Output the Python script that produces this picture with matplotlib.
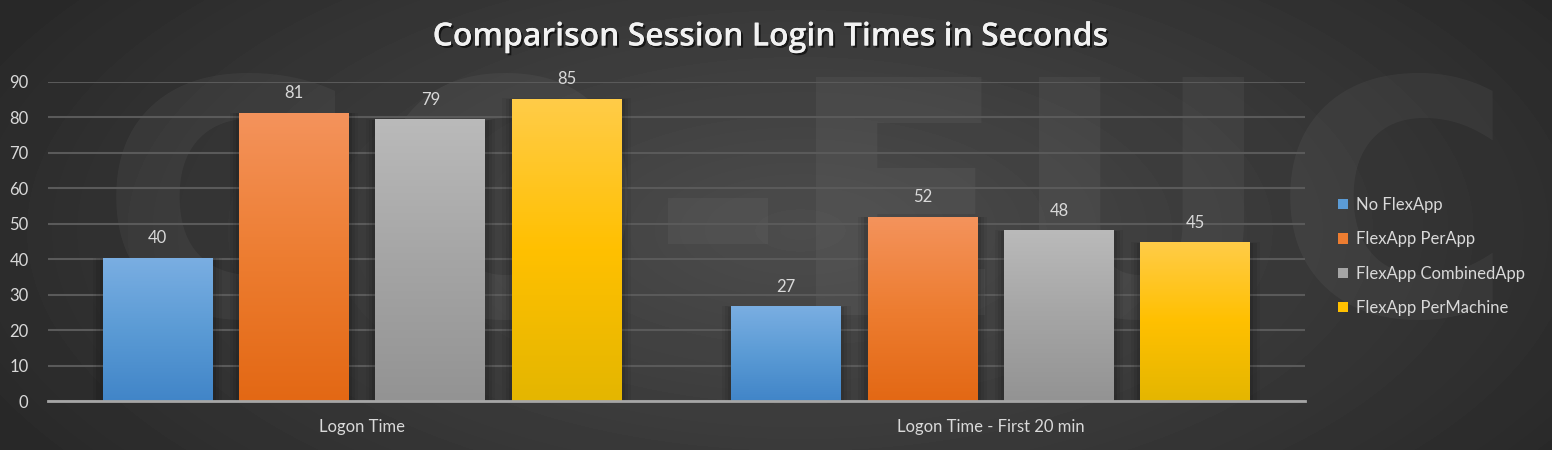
import matplotlib.pyplot as plt
import matplotlib.patheffects as pe
from matplotlib.colors import LinearSegmentedColormap
from matplotlib.patches import Rectangle
import numpy as np

# 数据
categories = ['Logon Time', 'Logon Time - First 20 min']
series = ['No FlexApp', 'FlexApp PerApp', 'FlexApp CombinedApp', 'FlexApp PerMachine']
no_flexapp = [40.3, 26.6]
per_app = [81.2, 51.9]
combined_app = [79.3, 48.0]
per_machine = [85.2, 44.6]
y_ticks = [0, 10, 20, 30, 40, 50, 60, 70, 80, 90]
title = 'Comparison Session Login Times in Seconds'

values = [no_flexapp, per_app, combined_app, per_machine]

# 样式
TOP_COLORS = ['#7aaee2', '#f4935c', '#bababa', '#ffcc48']
BOTTOM_COLORS = ['#4185c8', '#e36814', '#939393', '#e4b600']
MID_COLORS = ['#5b9bd5', '#ed7d31', '#a5a5a5', '#ffc000']
TEXT_COLOR = '#d9d9d9'
FONT = 'Lato'
FONTSIZE = 12

fig = plt.figure(figsize=(15.52, 4.5), dpi=100)

# 背景径向渐变
bg = fig.add_axes([0, 0, 1, 1], zorder=-10)
yy, xx = np.mgrid[0:450, 0:1552]
r = np.sqrt(((xx - 800) / 900.0) ** 2 + ((yy - 230) / 420.0) ** 2)
shade = np.clip(0.30 - 0.14 * r, 0.16, 0.30)
bg.imshow(shade, cmap='gray', vmin=0, vmax=1, aspect='auto', extent=[0, 1, 0, 1])
bg.set_axis_off()

# 水印
bg.text(0.52, 0.50, 'GO-EUC', transform=bg.transAxes, ha='center', va='center',
        fontsize=235, fontweight='bold', family='DejaVu Sans', color='white', alpha=0.045)

ax = fig.add_axes([48 / 1552, 1 - 401 / 450, (1305 - 48) / 1552, (401 - 82) / 450])
ax.set_facecolor('none')

n = len(series)
step = 0.217
width = 0.175
x = np.arange(len(categories))

grad = np.linspace(1, 0, 256).reshape(-1, 1)
for i, vals in enumerate(values):
    cmap = LinearSegmentedColormap.from_list(
        f'c{i}', [BOTTOM_COLORS[i], MID_COLORS[i], TOP_COLORS[i]])
    offs = (i - (n - 1) / 2) * step
    for j, v in enumerate(vals):
        xl = x[j] + offs - width / 2
        # 阴影
        for k, a in enumerate([0.09, 0.07, 0.05]):
            d = 0.005 * (k + 1)
            ax.add_patch(Rectangle((xl - d, 0), width + 2 * d, v + d * 10,
                                   facecolor='black', alpha=a, edgecolor='none', zorder=1))
        ax.imshow(grad, cmap=cmap, aspect='auto', extent=[xl, xl + width, 0, v],
                  zorder=2, interpolation='bilinear')
        ax.text(x[j] + offs, v + 3.3, f'{v:.0f}', ha='center', va='bottom',
                fontsize=FONTSIZE, color=TEXT_COLOR, family=FONT)

ax.set_xlim(-0.5, 1.5)
ax.set_ylim(0, 90)
ax.set_yticks(y_ticks)
ax.set_xticks(x)
ax.set_xticklabels(categories)
ax.yaxis.grid(True, color='#5a5a5a', linewidth=1.5, zorder=0)
ax.set_axisbelow(True)
for s in ['top', 'right', 'left']:
    ax.spines[s].set_visible(False)
ax.spines['bottom'].set_color('#a6a6a6')
ax.spines['bottom'].set_linewidth(2)
ax.spines['bottom'].set_zorder(3)
ax.tick_params(axis='both', length=0, colors=TEXT_COLOR, labelsize=FONTSIZE)
ax.tick_params(axis='y', pad=14)
ax.tick_params(axis='x', pad=13)
for lab in ax.get_xticklabels() + ax.get_yticklabels():
    lab.set_family(FONT)

# 图例
handles = [Rectangle((0, 0), 1, 1, facecolor=MID_COLORS[i]) for i in range(n)]
leg = fig.legend(handles, series, loc='center left', bbox_to_anchor=(1323 / 1552, 0.43),
                 frameon=False, handlelength=0.6, handleheight=0.6,
                 handletextpad=0.45, labelspacing=1.1, prop={'family': FONT, 'size': FONTSIZE})
for t in leg.get_texts():
    t.set_color(TEXT_COLOR)

# 标题
fig.text(0.497, 1 - 37 / 450, title, ha='center', va='center',
         fontsize=23, fontweight='semibold', color='#f2f2f2', family='Open Sans',
         path_effects=[pe.withSimplePatchShadow(offset=(1.5, -1.5), shadow_rgbFace='black', alpha=0.6),
                       pe.Normal()])

fig.savefig('out.png', dpi=100)
